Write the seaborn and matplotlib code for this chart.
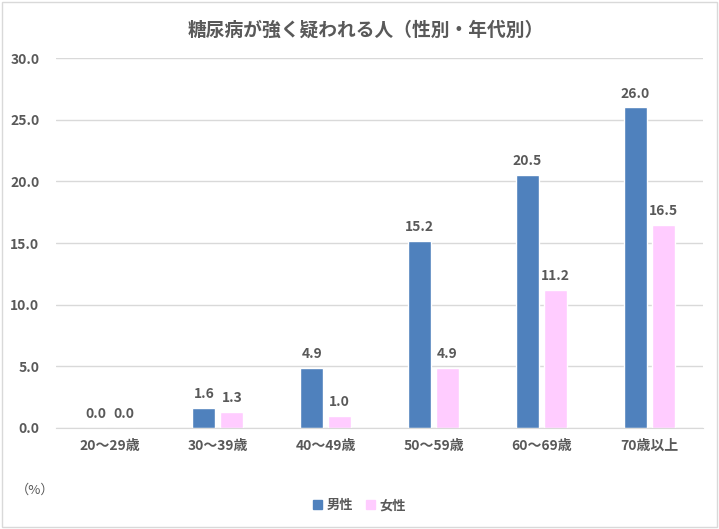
import pandas as pd
import seaborn as sns
import matplotlib.pyplot as plt
from matplotlib.patches import Rectangle

# データ
age_groups = ["20〜29歳", "30〜39歳", "40〜49歳", "50〜59歳", "60〜69歳", "70歳以上"]
male = [0.0, 1.6, 4.9, 15.2, 20.5, 26.0]
female = [0.0, 1.3, 1.0, 4.9, 11.2, 16.5]
sexes = ["男性", "女性"]
colors = ["#4F81BD", "#FFCCFF"]

df = pd.DataFrame({
    "age": age_groups * 2,
    "sex": [sexes[0]] * len(age_groups) + [sexes[1]] * len(age_groups),
    "value": male + female,
})

sns.set_style("white")
plt.rcParams["font.family"] = ["Noto Sans CJK JP", "DejaVu Sans"]
text_color = "#595959"

fig = plt.figure(figsize=(7.19, 5.29), dpi=100)
ax = fig.add_axes([0.078, 0.191, 0.900, 0.699])

sns.barplot(data=df, x="age", y="value", hue="sex", order=age_groups,
            hue_order=sexes, palette=colors, saturation=1,
            width=0.52, gap=0.18, ax=ax, legend=False)

for cont in ax.containers:
    ax.bar_label(cont, fmt="%.1f", padding=5, fontsize=10, fontweight="bold",
                 color=text_color)

ax.set_ylim(0, 30)
ax.set_yticks(range(0, 31, 5))
ax.set_yticklabels([f"{v:.1f}" for v in range(0, 31, 5)])
ax.set_xlim(-0.5, len(age_groups) - 0.5)
ax.yaxis.grid(True, color="#D9D9D9", linewidth=1)
ax.set_axisbelow(True)
for side in ["left", "right", "top"]:
    ax.spines[side].set_visible(False)
ax.spines["bottom"].set_color("#D9D9D9")
ax.tick_params(axis="both", length=0, labelsize=10, labelcolor=text_color)
ax.tick_params(axis="x", pad=8)
ax.tick_params(axis="y", pad=12)
for lbl in ax.get_xticklabels() + ax.get_yticklabels():
    lbl.set_fontweight("bold")
ax.set_xlabel("")
ax.set_ylabel("")

fig.text(0.508, 0.943, "糖尿病が強く疑われる人（性別・年代別）", ha="center", va="center",
         fontsize=13.5, fontweight="bold", color=text_color)
fig.text(0.022, 0.073, "（%）", ha="left", va="center", fontsize=9.5,
         color=text_color)

handles = [Rectangle((0, 0), 1, 1, color=c) for c in colors]
fig.legend(handles, sexes, loc="center", bbox_to_anchor=(0.5, 0.045), ncol=2,
           frameon=False, prop={"size": 9.5, "weight": "bold"},
           handlelength=0.7, handleheight=0.7,
           handletextpad=0.3, columnspacing=1.0, labelcolor=text_color)

fig.patches.append(Rectangle((0.003, 0.004), 0.994, 0.992, transform=fig.transFigure,
                             fill=False, edgecolor="#D9D9D9", linewidth=1))

fig.savefig("out.png", dpi=100)
